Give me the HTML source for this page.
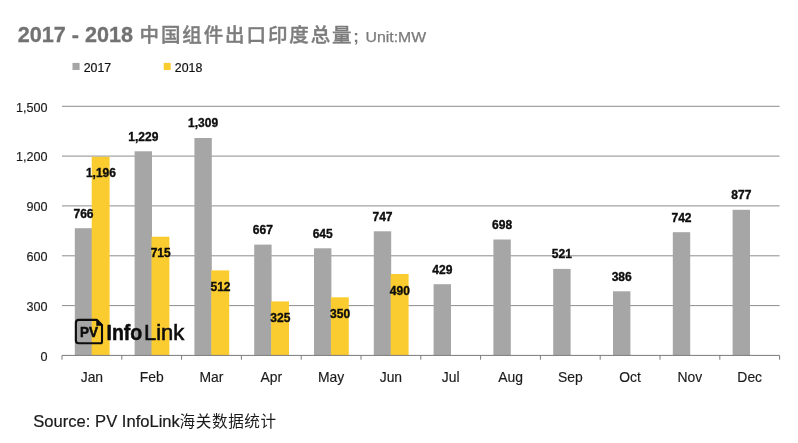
<!DOCTYPE html>
<html lang="zh-CN">
<head>
<meta charset="utf-8">
<title>2017 - 2018 中国组件出口印度总量</title>
<style>
html,body{margin:0;padding:0;background:#fff;}
body{width:798px;height:443px;overflow:hidden;}
svg{display:block;}
text{font-family:"Liberation Sans","Noto Sans CJK SC",sans-serif;}
.ttl{font-size:21.6px;font-weight:bold;fill:#727272;stroke:#727272;stroke-width:0.3px;}
.semi{font-size:17px;font-weight:bold;fill:#787878;}
.ttlc{font-size:19.5px;font-weight:500;fill:#7c7c7c;stroke:#7c7c7c;stroke-width:0.35px;letter-spacing:1.9px;}
.unit{font-size:15px;fill:#7a7a7a;stroke:#7a7a7a;stroke-width:0.25px;}
.ax{font-size:12.6px;fill:#1a1a1a;stroke:#1a1a1a;stroke-width:0.15px;}
.lg{font-size:12.4px;fill:#111;stroke:#111;stroke-width:0.2px;}
.cat{font-size:13.9px;fill:#1a1a1a;stroke:#1a1a1a;stroke-width:0.15px;}
.dl{font-size:12.2px;font-weight:bold;fill:#0d0d0d;stroke:#0d0d0d;stroke-width:0.35px;}
.src{font-size:16.5px;fill:#1a1a1a;stroke:#1a1a1a;stroke-width:0.2px;}
.srcc{font-size:15.6px;fill:#1a1a1a;letter-spacing:0.6px;}
</style>
</head>
<body>
<svg width="798" height="443" viewBox="0 0 798 443">
<rect width="798" height="443" fill="#ffffff"/>

<text y="42"><tspan class="ttl" x="17.8">2017 - 2018 </tspan><tspan class="ttlc" x="139.5" y="42.1">中国组件出口印度总量</tspan><tspan class="semi" x="353.3" y="42">;</tspan> <tspan class="unit" x="365.6" y="41.6" textLength="60.6" lengthAdjust="spacingAndGlyphs">Unit:MW</tspan></text>
<rect x="72.5" y="62.9" width="7.1" height="7.1" fill="#a6a6a6"/>
<text class="lg" x="83.7" y="71.8" textLength="27.5" lengthAdjust="spacingAndGlyphs">2017</text>
<rect x="163.7" y="62.9" width="7" height="7.1" fill="#fbcc30"/>
<text class="lg" x="174.8" y="71.8" textLength="27.5" lengthAdjust="spacingAndGlyphs">2018</text>
<line x1="62.0" y1="106.3" x2="779.6" y2="106.3" stroke="#707070" stroke-width="0.8"/>
<line x1="62.0" y1="156.1" x2="779.6" y2="156.1" stroke="#707070" stroke-width="0.8"/>
<line x1="62.0" y1="205.9" x2="779.6" y2="205.9" stroke="#707070" stroke-width="0.8"/>
<line x1="62.0" y1="255.8" x2="779.6" y2="255.8" stroke="#707070" stroke-width="0.8"/>
<line x1="62.0" y1="305.6" x2="779.6" y2="305.6" stroke="#707070" stroke-width="0.8"/>
<text class="ax" x="47.4" y="111.5" text-anchor="end">1,500</text>
<text class="ax" x="47.4" y="161.3" text-anchor="end">1,200</text>
<text class="ax" x="47.4" y="211.1" text-anchor="end">900</text>
<text class="ax" x="47.4" y="261.0" text-anchor="end">600</text>
<text class="ax" x="47.4" y="310.8" text-anchor="end">300</text>
<text class="ax" x="47.4" y="360.6" text-anchor="end">0</text>
<rect x="74.8" y="228.2" width="17.4" height="127.2" fill="#a6a6a6"/>
<rect x="134.6" y="151.3" width="17.4" height="204.1" fill="#a6a6a6"/>
<rect x="194.4" y="138.0" width="17.4" height="217.4" fill="#a6a6a6"/>
<rect x="254.2" y="244.6" width="17.4" height="110.8" fill="#a6a6a6"/>
<rect x="314.0" y="248.3" width="17.4" height="107.1" fill="#a6a6a6"/>
<rect x="373.8" y="231.3" width="17.4" height="124.1" fill="#a6a6a6"/>
<rect x="433.6" y="284.2" width="17.4" height="71.2" fill="#a6a6a6"/>
<rect x="493.4" y="239.5" width="17.4" height="115.9" fill="#a6a6a6"/>
<rect x="553.2" y="268.9" width="17.4" height="86.5" fill="#a6a6a6"/>
<rect x="613.0" y="291.3" width="17.4" height="64.1" fill="#a6a6a6"/>
<rect x="672.8" y="232.2" width="17.4" height="123.2" fill="#a6a6a6"/>
<rect x="732.6" y="209.8" width="17.4" height="145.6" fill="#a6a6a6"/>
<rect x="91.7" y="156.8" width="17.9" height="198.6" fill="#fbcc30"/>
<rect x="151.5" y="236.7" width="17.9" height="118.7" fill="#fbcc30"/>
<rect x="211.3" y="270.4" width="17.9" height="85.0" fill="#fbcc30"/>
<rect x="271.1" y="301.4" width="17.9" height="54.0" fill="#fbcc30"/>
<rect x="330.9" y="297.3" width="17.9" height="58.1" fill="#fbcc30"/>
<rect x="390.7" y="274.0" width="17.9" height="81.4" fill="#fbcc30"/>
<line x1="62.0" y1="355.4" x2="779.6" y2="355.4" stroke="#7a7a7a" stroke-width="1"/>
<line x1="62.0" y1="355.4" x2="62.0" y2="359.7" stroke="#7a7a7a" stroke-width="1"/>
<line x1="121.8" y1="355.4" x2="121.8" y2="359.7" stroke="#7a7a7a" stroke-width="1"/>
<line x1="181.6" y1="355.4" x2="181.6" y2="359.7" stroke="#7a7a7a" stroke-width="1"/>
<line x1="241.4" y1="355.4" x2="241.4" y2="359.7" stroke="#7a7a7a" stroke-width="1"/>
<line x1="301.2" y1="355.4" x2="301.2" y2="359.7" stroke="#7a7a7a" stroke-width="1"/>
<line x1="361.0" y1="355.4" x2="361.0" y2="359.7" stroke="#7a7a7a" stroke-width="1"/>
<line x1="420.8" y1="355.4" x2="420.8" y2="359.7" stroke="#7a7a7a" stroke-width="1"/>
<line x1="480.6" y1="355.4" x2="480.6" y2="359.7" stroke="#7a7a7a" stroke-width="1"/>
<line x1="540.4" y1="355.4" x2="540.4" y2="359.7" stroke="#7a7a7a" stroke-width="1"/>
<line x1="600.2" y1="355.4" x2="600.2" y2="359.7" stroke="#7a7a7a" stroke-width="1"/>
<line x1="660.0" y1="355.4" x2="660.0" y2="359.7" stroke="#7a7a7a" stroke-width="1"/>
<line x1="719.8" y1="355.4" x2="719.8" y2="359.7" stroke="#7a7a7a" stroke-width="1"/>
<line x1="779.6" y1="355.4" x2="779.6" y2="359.7" stroke="#7a7a7a" stroke-width="1"/>
<text class="cat" x="91.9" y="381.7" text-anchor="middle">Jan</text>
<text class="cat" x="151.7" y="381.7" text-anchor="middle">Feb</text>
<text class="cat" x="211.5" y="381.7" text-anchor="middle">Mar</text>
<text class="cat" x="271.3" y="381.7" text-anchor="middle">Apr</text>
<text class="cat" x="331.1" y="381.7" text-anchor="middle">May</text>
<text class="cat" x="390.9" y="381.7" text-anchor="middle">Jun</text>
<text class="cat" x="450.7" y="381.7" text-anchor="middle">Jul</text>
<text class="cat" x="510.5" y="381.7" text-anchor="middle">Aug</text>
<text class="cat" x="570.3" y="381.7" text-anchor="middle">Sep</text>
<text class="cat" x="630.1" y="381.7" text-anchor="middle">Oct</text>
<text class="cat" x="689.9" y="381.7" text-anchor="middle">Nov</text>
<text class="cat" x="749.7" y="381.7" text-anchor="middle">Dec</text>
<text class="dl" x="83.5" y="217.5" text-anchor="middle" textLength="20.1" lengthAdjust="spacingAndGlyphs">766</text>
<text class="dl" x="143.3" y="140.6" text-anchor="middle" textLength="30.0" lengthAdjust="spacingAndGlyphs">1,229</text>
<text class="dl" x="203.1" y="127.3" text-anchor="middle" textLength="30.0" lengthAdjust="spacingAndGlyphs">1,309</text>
<text class="dl" x="262.9" y="233.9" text-anchor="middle" textLength="20.1" lengthAdjust="spacingAndGlyphs">667</text>
<text class="dl" x="322.7" y="237.6" text-anchor="middle" textLength="20.1" lengthAdjust="spacingAndGlyphs">645</text>
<text class="dl" x="382.5" y="220.6" text-anchor="middle" textLength="20.1" lengthAdjust="spacingAndGlyphs">747</text>
<text class="dl" x="442.3" y="273.5" text-anchor="middle" textLength="20.1" lengthAdjust="spacingAndGlyphs">429</text>
<text class="dl" x="502.1" y="228.8" text-anchor="middle" textLength="20.1" lengthAdjust="spacingAndGlyphs">698</text>
<text class="dl" x="561.9" y="258.2" text-anchor="middle" textLength="20.1" lengthAdjust="spacingAndGlyphs">521</text>
<text class="dl" x="621.7" y="280.6" text-anchor="middle" textLength="20.1" lengthAdjust="spacingAndGlyphs">386</text>
<text class="dl" x="681.5" y="221.5" text-anchor="middle" textLength="20.1" lengthAdjust="spacingAndGlyphs">742</text>
<text class="dl" x="741.3" y="199.1" text-anchor="middle" textLength="20.1" lengthAdjust="spacingAndGlyphs">877</text>
<text class="dl" x="100.9" y="177.3" text-anchor="middle" textLength="30.0" lengthAdjust="spacingAndGlyphs">1,196</text>
<text class="dl" x="160.7" y="257.2" text-anchor="middle" textLength="20.1" lengthAdjust="spacingAndGlyphs">715</text>
<text class="dl" x="220.5" y="290.9" text-anchor="middle" textLength="20.1" lengthAdjust="spacingAndGlyphs">512</text>
<text class="dl" x="280.3" y="321.9" text-anchor="middle" textLength="20.1" lengthAdjust="spacingAndGlyphs">325</text>
<text class="dl" x="340.1" y="317.8" text-anchor="middle" textLength="20.1" lengthAdjust="spacingAndGlyphs">350</text>
<text class="dl" x="399.9" y="294.5" text-anchor="middle" textLength="20.1" lengthAdjust="spacingAndGlyphs">490</text>
<g id="logo">
<path d="M78.7 319.9 H97 L102 325 V341.8 Q102 343.3 100.5 343.3 H78.7 Q75.9 343.3 75.9 340.5 V322.7 Q75.9 319.9 78.7 319.9 Z" fill="none" stroke="#0d0d0d" stroke-width="2.1" stroke-linejoin="round"/>
<path d="M96.6 319.6 V325.4 H102.3 Z" fill="#0d0d0d" stroke="#0d0d0d" stroke-width="0.6" stroke-linejoin="round"/>
<text x="80.1" y="337" style="font-size:13.8px;font-weight:bold;fill:#0d0d0d;stroke:#0d0d0d;stroke-width:0.5px" textLength="18" lengthAdjust="spacingAndGlyphs">PV</text>
<text y="340.1"><tspan x="106.5" style="font-size:22.6px;font-weight:bold;fill:#0d0d0d;stroke:#0d0d0d;stroke-width:0.55px" textLength="35.8" lengthAdjust="spacingAndGlyphs">Info</tspan><tspan x="143.9" style="font-size:22.6px;fill:#0d0d0d;stroke:#0d0d0d;stroke-width:0.6px" textLength="40.4" lengthAdjust="spacingAndGlyphs">Link</tspan></text>
</g>
<text y="427.4"><tspan class="src" x="33.3" textLength="146.6" lengthAdjust="spacingAndGlyphs">Source: PV InfoLink</tspan><tspan class="srcc" x="179.6" y="426.6">海关数据统计</tspan></text>
</svg>
</body>
</html>
